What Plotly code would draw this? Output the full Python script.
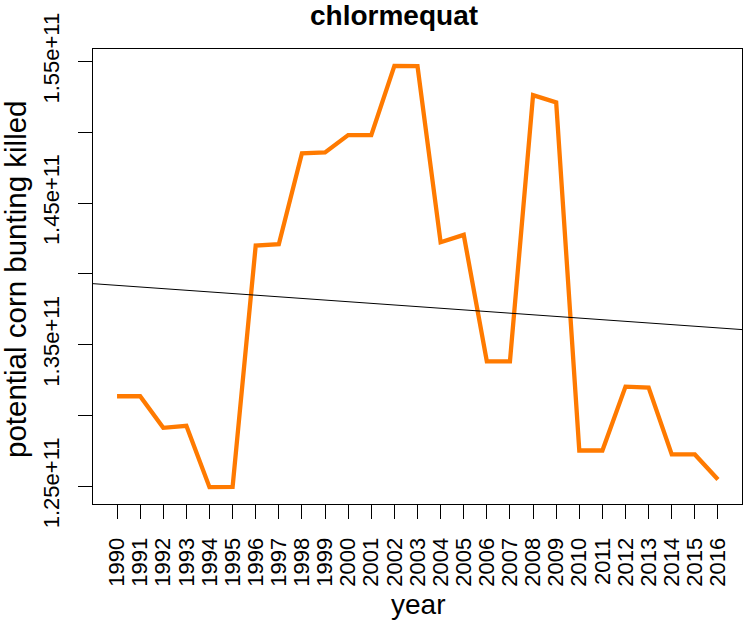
import numpy as np
import plotly.graph_objects as go

years = list(range(1990, 2017))
killed = [1.3135e11, 1.3135e11, 1.2912e11, 1.2926e11, 1.2493e11, 1.2495e11,
          1.4200e11, 1.4209e11, 1.4851e11, 1.4858e11, 1.4980e11, 1.4980e11,
          1.5469e11, 1.5467e11, 1.4223e11, 1.4275e11, 1.3381e11, 1.3381e11,
          1.5262e11, 1.5211e11, 1.2752e11, 1.2752e11, 1.3203e11, 1.3196e11,
          1.2724e11, 1.2724e11, 1.2547e11]
ytick_vals = [1.25e11, 1.30e11, 1.35e11, 1.40e11, 1.45e11, 1.50e11, 1.55e11]
ytick_text = ["1.25e+11", "", "1.35e+11", "", "1.45e+11", "", "1.55e+11"]
title = "chlormequat"
xlab = "year"
ylab = "potential corn bunting killed"

# R-style 4% axis padding
x = np.array(years, dtype=float)
y = np.array(killed)
xpad = (x.max() - x.min()) * 0.04
ypad = (y.max() - y.min()) * 0.04
xr = [x.min() - xpad, x.max() + xpad]
yr = [y.min() - ypad, y.max() + ypad]

slope, intercept = np.polyfit(x, y, 1)
fit_x = np.array(xr)
fit_y = intercept + slope * fit_x

W, H = 747, 623
L, R, T, B = 93, 5, 49, 119
pw, ph = W - L - R, H - T - B

def px(p):
    return (p - L) / pw

def py(p):
    return (H - B - p) / ph

font = "Liberation Sans, Arial, Helvetica, sans-serif"

fig = go.Figure()
fig.add_trace(go.Scatter(x=years, y=killed, mode="lines",
                         line=dict(color="#FF7A00", width=4.3), showlegend=False))
fig.add_trace(go.Scatter(x=fit_x, y=fit_y, mode="lines",
                         line=dict(color="black", width=1), showlegend=False))

fig.update_layout(
    width=W, height=H,
    margin=dict(l=L, r=R, t=T, b=B, autoexpand=False),
    paper_bgcolor="white", plot_bgcolor="white",
    font=dict(family=font, color="black", size=22),
    xaxis=dict(range=xr, tickvals=years, ticktext=[str(v) for v in years],
               tickangle=-90, ticks="outside", ticklen=14, tickcolor="black",
               tickwidth=1, showline=True, linecolor="black", linewidth=1,
               mirror=True, showgrid=False, zeroline=False, automargin=False,
               tickfont=dict(size=22, family=font), ticklabelstandoff=10),
    yaxis=dict(range=yr, tickvals=ytick_vals, ticktext=ytick_text,
               tickangle=-90, ticks="outside", ticklen=14, tickcolor="black",
               tickwidth=1, showline=True, linecolor="black", linewidth=1,
               mirror=True, showgrid=False, zeroline=False, automargin=False,
               tickfont=dict(size=22, family=font), ticklabelstandoff=10),
    annotations=[
        dict(text="<b>" + title + "</b>", x=px(393.5), y=py(15), xref="paper", yref="paper",
             showarrow=False, xanchor="center", yanchor="middle",
             font=dict(size=28, family=font, color="black")),
        dict(text=xlab, x=px(418), y=py(604), xref="paper", yref="paper",
             showarrow=False, xanchor="center", yanchor="middle",
             font=dict(size=28, family=font, color="black")),
        dict(text=ylab, x=px(15), y=py(279), xref="paper", yref="paper",
             showarrow=False, xanchor="center", yanchor="middle", textangle=-90,
             font=dict(size=29.5, family=font, color="black")),
    ],
)

fig.write_html("out.html", config={"displayModeBar": False},
               post_script="document.body.style.margin='0px';")
